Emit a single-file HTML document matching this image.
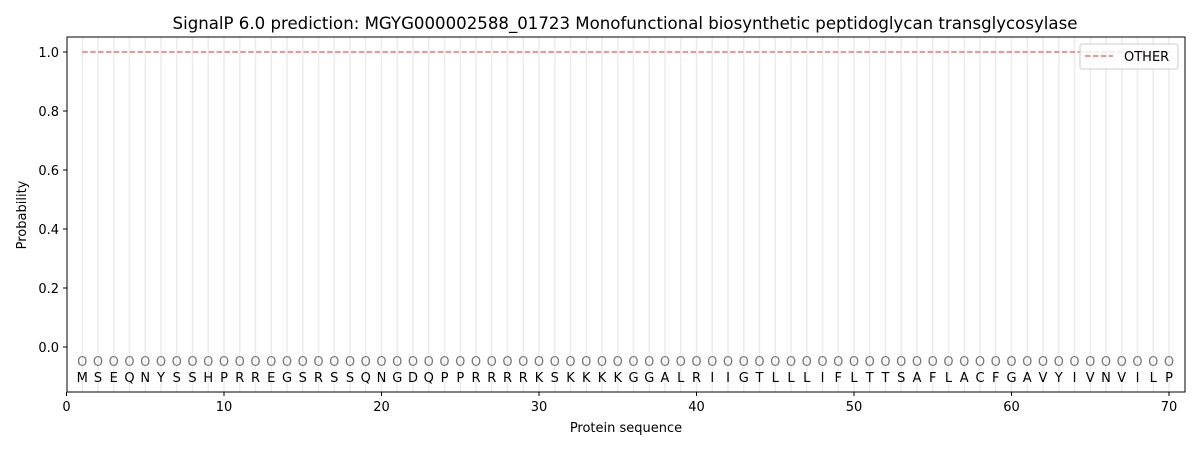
<!DOCTYPE html>
<html><head><meta charset="utf-8"><style>body{margin:0;background:#fff}svg{display:block}text{font-family:"DejaVu Sans","Liberation Sans",sans-serif}</style></head>
<body>
<svg id="s" width="1200" height="450" xmlns="http://www.w3.org/2000/svg">
<text x="625" y="29" font-size="16.6" text-anchor="middle">SignalP 6.0 prediction: MGYG000002588_01723 Monofunctional biosynthetic peptidoglycan transglycosylase</text>
<g id="g"></g>
<rect x="67" y="37" width="1118" height="355" fill="none" stroke="#000" stroke-width="1"/>
<line x1="82.25" y1="52" x2="1169" y2="52" stroke="#f07070" stroke-width="1.5" stroke-dasharray="5.5,2.4"/>
<rect x="1080" y="44" width="98" height="25" rx="2" fill="#fff" fill-opacity="0.8" stroke="#ccc"/>
<line x1="1085" y1="56" x2="1113" y2="56" stroke="#f07070" stroke-width="1.5" stroke-dasharray="5.5,2.4"/>
<text x="1124" y="61" font-size="13">OTHER</text>
<text x="626" y="432" font-size="13" text-anchor="middle">Protein sequence</text>
<text x="26" y="215" font-size="13" text-anchor="middle" transform="rotate(-90 26 215)">Probability</text>
</svg>
<script>
var seq="MSEQNYSSHPRREGSRSSQNGDQPPRRRRKSKKKKGGALRIIGTLLLIFLTTSAFLACFGAVYIVNVILP";
var g=document.getElementById('g'),h='';
function X(i){return 66.5+i*15.75;}
for(var i=1;i<=70;i++){var x=X(i);
h+='<line x1="'+x+'" y1="37" x2="'+x+'" y2="392" stroke="#ececec" stroke-width="1.5"/>';
h+='<text x="'+x+'" y="366" font-size="13" fill="#777" text-anchor="middle">O</text>';
h+='<text x="'+x+'" y="382" font-size="13" text-anchor="middle">'+seq[i-1]+'</text>';}
for(var t=0;t<=70;t+=10){var x=X(t);h+='<line x1="'+x+'" y1="392" x2="'+x+'" y2="396" stroke="#000"/><text x="'+x+'" y="411" font-size="13" text-anchor="middle">'+t+'</text>';}
for(var k=0;k<=5;k++){var y=347-k*59;h+='<line x1="63" y1="'+y+'" x2="67" y2="'+y+'" stroke="#000"/><text x="59" y="'+(y+5)+'" font-size="13" text-anchor="end">'+(k*0.2).toFixed(1)+'</text>';}
g.innerHTML=h;
</script>
</body></html>
